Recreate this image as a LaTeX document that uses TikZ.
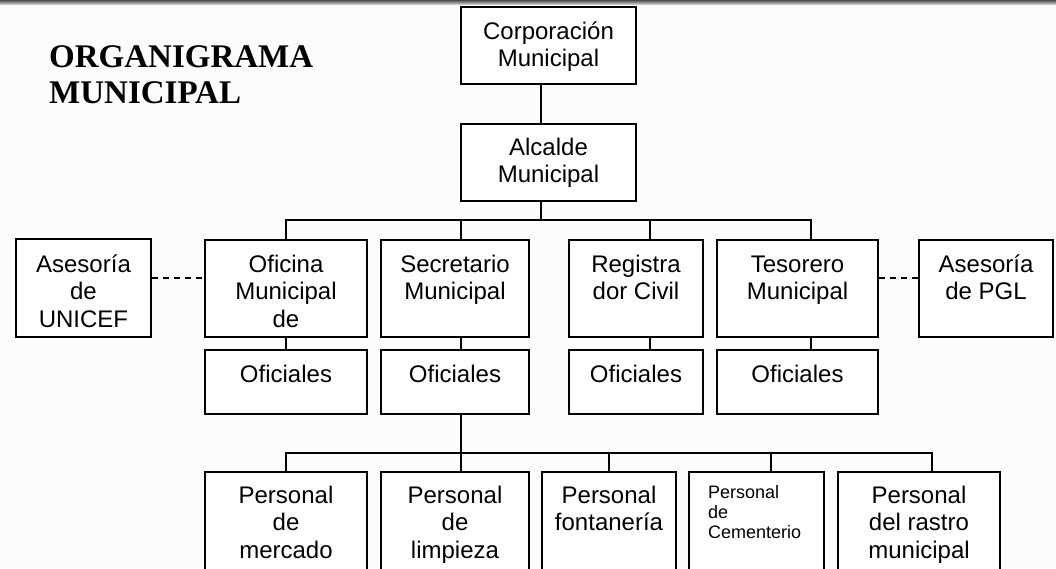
\documentclass[tikz,border=0pt]{standalone}
\usepackage{fontspec}
\setmainfont{Liberation Sans}
\newfontfamily\titlefont{Liberation Serif}
\newcommand\boxtext[1]{\begin{tabular}[t]{@{}c@{}}#1\end{tabular}}
\newcommand\boxtextl[1]{\begin{tabular}[t]{@{}l@{}}#1\end{tabular}}
\definecolor{bg}{RGB}{252,252,252}
\begin{document}
\begin{tikzpicture}[x=1pt,y=-1pt,
  box/.style={draw=black, line width=1.6pt, fill=white, inner sep=0pt},
  lbl/.style={inner sep=0pt, anchor=base, font=\fontsize{24}{27.5}\selectfont},
  conn/.style={line width=1.6pt, draw=black},
  dashconn/.style={line width=1.6pt, draw=black, dash pattern=on 6pt off 5pt}]
\useasboundingbox (0,0) rectangle (1056,568);
\clip (0,0) rectangle (1056,568);
\fill[bg] (0,0) rectangle (1056,568);
\shade[top color=gray!60!black, bottom color=gray!45] (0,0) rectangle (1056,4);

% title
\node[inner sep=0pt, anchor=base west, font=\titlefont\bfseries\fontsize{33}{36}\selectfont] (title) at (49,67)
  {\boxtextl{ORGANIGRAMA\\MUNICIPAL}};

% boxes
\node[box, minimum width=175pt, minimum height=77pt] (cor) at (548.5,45.5) {};
\node[box, minimum width=175pt, minimum height=77pt] (alc) at (548.5,162.5) {};
\node[box, minimum width=135pt, minimum height=98pt] (une) at (83.5,288) {};
\node[box, minimum width=162pt, minimum height=97pt] (ofi) at (286,288.5) {};
\node[box, minimum width=148pt, minimum height=97pt] (sec) at (455,288.5) {};
\node[box, minimum width=134pt, minimum height=97pt] (reg) at (636,288.5) {};
\node[box, minimum width=161pt, minimum height=97pt] (tes) at (797.5,288.5) {};
\node[box, minimum width=134pt, minimum height=97pt] (pgl) at (986,288.5) {};
\node[box, minimum width=162pt, minimum height=64pt] (ofiO) at (286,382) {};
\node[box, minimum width=148pt, minimum height=64pt] (secO) at (455,382) {};
\node[box, minimum width=134pt, minimum height=64pt] (regO) at (636,382) {};
\node[box, minimum width=161pt, minimum height=64pt] (tesO) at (797.5,382) {};
\node[box, minimum width=162pt, minimum height=148pt] (b1) at (286,546) {};
\node[box, minimum width=148pt, minimum height=148pt] (b2) at (455,546) {};
\node[box, minimum width=134pt, minimum height=148pt] (b3) at (609,546) {};
\node[box, minimum width=135pt, minimum height=148pt] (b4) at (756.5,546) {};
\node[box, minimum width=162pt, minimum height=148pt] (b5) at (919,546) {};

% labels
\node[lbl] (corT) at (548.5,39) {\boxtext{Corporación\\Municipal}};
\node[lbl] (alcT) at (548.5,155) {\boxtext{Alcalde\\Municipal}};
\node[lbl] (uneT) at (83.5,272) {\boxtext{Asesoría\\de\\UNICEF}};
\node[lbl] (ofiT) at (286,272) {\boxtext{Oficina\\Municipal\\de}};
\node[lbl] (secT) at (455,272) {\boxtext{Secretario\\Municipal}};
\node[lbl] (regT) at (636,272) {\boxtext{Registra\\dor Civil}};
\node[lbl] (tesT) at (797.5,272) {\boxtext{Tesorero\\Municipal}};
\node[lbl] (pglT) at (986,272) {\boxtext{Asesoría\\de PGL}};
\node[lbl] (ofiOT) at (286,382) {Oficiales};
\node[lbl] (secOT) at (455,382) {Oficiales};
\node[lbl] (regOT) at (636,382) {Oficiales};
\node[lbl] (tesOT) at (797.5,382) {Oficiales};
\node[lbl] (b1T) at (286,503) {\boxtext{Personal\\de\\mercado}};
\node[lbl] (b2T) at (455,503) {\boxtext{Personal\\de\\limpieza}};
\node[lbl] (b3T) at (609,503) {\boxtext{Personal\\fontanería}};
\node[inner sep=0pt, anchor=base west, font=\fontsize{18}{20}\selectfont] (b4T) at (708,498) {\boxtextl{Personal\\de\\Cementerio}};
\node[lbl] (b5T) at (919,503) {\boxtext{Personal\\del rastro\\municipal}};

% helper coordinates
\coordinate (xA) at (541,0);
\coordinate (x286) at (286,0);
\coordinate (x461) at (461,0);
\coordinate (x650) at (650,0);
\coordinate (x811) at (811,0);
\coordinate (x609) at (609,0);
\coordinate (x771) at (771,0);
\coordinate (x932) at (932,0);
\coordinate (bus1) at (541,220);
\coordinate (bus2) at (461,453);
\coordinate (yD) at (0,278);

% connectors
\draw[conn] (cor.south -| xA) -- (alc.north -| xA);
\draw[conn] (alc.south -| xA) -- (bus1);
\draw[conn] (ofi.north -| x286) -- (bus1 -| x286) -- (bus1 -| x811) -- (tes.north -| x811);
\draw[conn] (bus1 -| x461) -- (sec.north -| x461);
\draw[conn] (bus1 -| x650) -- (reg.north -| x650);
\draw[conn] (ofi.south -| x286) -- (ofiO.north -| x286);
\draw[conn] (sec.south -| x461) -- (secO.north -| x461);
\draw[conn] (reg.south -| x650) -- (regO.north -| x650);
\draw[conn] (tes.south -| x811) -- (tesO.north -| x811);
\draw[conn] (secO.south -| x461) -- (b2.north -| x461);
\draw[conn] (b1.north -| x286) -- (bus2 -| x286) -- (bus2 -| x932) -- (b5.north -| x932);
\draw[conn] (bus2 -| x609) -- (b3.north -| x609);
\draw[conn] (bus2 -| x771) -- (b4.north -| x771);
\draw[dashconn] (une.east |- yD) -- (ofi.west |- yD);
\draw[dashconn] (tes.east |- yD) -- (pgl.west |- yD);
\end{tikzpicture}
\end{document}
